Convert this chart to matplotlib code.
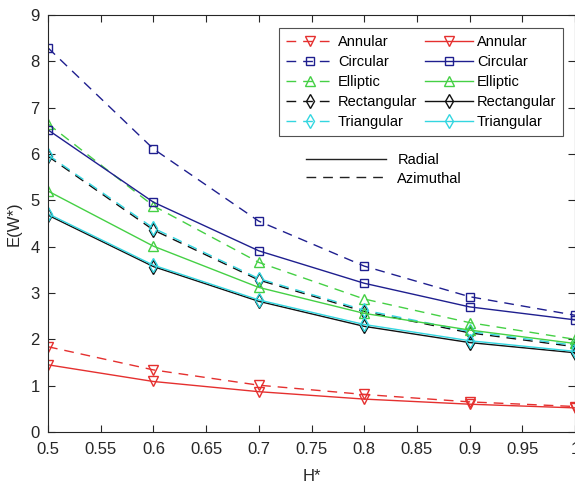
import matplotlib
matplotlib.use("Agg")
import matplotlib.pyplot as plt
from matplotlib.lines import Line2D

plt.rcParams['font.family'] = ['Liberation Sans', 'DejaVu Sans']

h_star = [0.5, 0.6, 0.7, 0.8, 0.9, 1.0]

shapes = ['Annular', 'Circular', 'Elliptic', 'Rectangular', 'Triangular']

# radial (solid) values
radial = {
    'Annular':     [1.45, 1.09, 0.87, 0.71, 0.60, 0.52],
    'Circular':    [6.52, 4.96, 3.91, 3.21, 2.70, 2.42],
    'Elliptic':    [5.20, 4.01, 3.12, 2.56, 2.20, 1.91],
    'Rectangular': [4.68, 3.57, 2.82, 2.28, 1.93, 1.71],
    'Triangular':  [4.71, 3.60, 2.85, 2.32, 1.97, 1.74],
}

# azimuthal (dashed) values
azimuthal = {
    'Annular':     [1.84, 1.34, 1.01, 0.81, 0.65, 0.55],
    'Circular':    [8.29, 6.11, 4.55, 3.58, 2.92, 2.52],
    'Elliptic':    [6.65, 4.88, 3.66, 2.87, 2.36, 2.00],
    'Rectangular': [5.95, 4.36, 3.28, 2.60, 2.14, 1.84],
    'Triangular':  [5.98, 4.40, 3.31, 2.63, 2.17, 1.87],
}

colors = {
    'Annular': '#e5302f',
    'Circular': '#1f1f8f',
    'Elliptic': '#45d045',
    'Rectangular': '#111111',
    'Triangular': '#33d6e0',
}
markers = {
    'Annular': 'v',
    'Circular': 's',
    'Elliptic': '^',
    'Rectangular': 'd',
    'Triangular': 'd',
}
msizes = {
    'Annular': 7.5,
    'Circular': 5.5,
    'Elliptic': 7.5,
    'Rectangular': 7,
    'Triangular': 7,
}

fig = plt.figure(figsize=(5.75, 4.83), dpi=100)
ax = fig.add_axes([0.0835, 0.1056, 0.9165, 0.8634])

dash = (0, (7, 5))
dashed_handles = []
solid_handles = []
for s in shapes:
    ld, = ax.plot(h_star, azimuthal[s], linestyle=dash, color=colors[s],
                  marker=markers[s], markersize=msizes[s], markerfacecolor='none',
                  linewidth=1.0, label=s)
    dashed_handles.append(ld)
for s in shapes:
    ls, = ax.plot(h_star, radial[s], linestyle='-', color=colors[s],
                  marker=markers[s], markersize=msizes[s], markerfacecolor='none',
                  linewidth=1.0, label=s)
    solid_handles.append(ls)

ax.set_xlim(0.5, 1.0)
ax.set_ylim(0, 9)
ax.set_xticks([0.5, 0.55, 0.6, 0.65, 0.7, 0.75, 0.8, 0.85, 0.9, 0.95, 1.0])
ax.set_xticklabels(['0.5', '0.55', '0.6', '0.65', '0.7', '0.75', '0.8',
                    '0.85', '0.9', '0.95', '1'])
ax.set_yticks(range(10))
ax.tick_params(direction='in', top=True, right=True, labelsize=12,
               colors='#262626', length=5)
ax.tick_params(axis='x', pad=7)
ax.tick_params(axis='y', pad=6)
for sp in ax.spines.values():
    sp.set_color('#262626')
ax.set_xlabel('H*', fontsize=12, color='#262626', labelpad=9)
ax.set_ylabel('E(W*)', fontsize=12, color='#262626', labelpad=6)

leg1 = ax.legend(dashed_handles + solid_handles, shapes + shapes, ncol=2,
                 loc='upper right', bbox_to_anchor=(0.977, 0.968), fontsize=10.5,
                 frameon=True, fancybox=False, edgecolor='#262626',
                 handlelength=3.3, columnspacing=0.55, handletextpad=0.25,
                 labelspacing=0.42, borderpad=0.45, borderaxespad=0)
leg1.get_frame().set_linewidth(0.8)
ax.add_artist(leg1)

style_handles = [Line2D([], [], color='#222222', linestyle='-', linewidth=1.0),
                 Line2D([], [], color='#222222', linestyle=dash, linewidth=1.0)]
ax.legend(style_handles, ['Radial', 'Azimuthal'], loc='upper left',
          bbox_to_anchor=(0.465, 0.70), fontsize=10.5, frameon=False,
          handlelength=5.5, handletextpad=0.75, labelspacing=0.3)

fig.savefig('out.png', dpi=100)
